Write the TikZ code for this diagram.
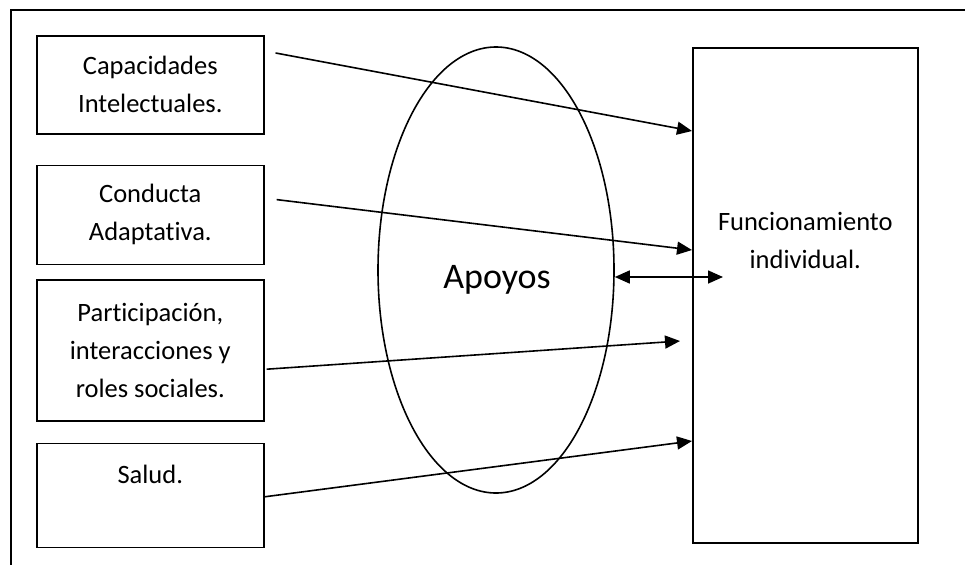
\documentclass[tikz,border=0pt]{standalone}
\usepackage{fontspec}
\setmainfont{Carlito}[Ligatures=NoCommon]
\usetikzlibrary{shapes.geometric, positioning, arrows.meta}

\begin{document}
\begin{tikzpicture}[x=1pt, y=-1pt, >={Triangle[length=15pt,width=13pt]},
  caja/.style={draw, line width=1.6pt, inner sep=0pt, minimum width=227pt, align=center, font=\fontsize{26.5}{38}\selectfont},
  texto/.style={align=center, font=\fontsize{26.5}{38}\selectfont}]
\useasboundingbox (0,0) rectangle (965,565);
\draw[line width=1.7pt] (965,10) -- (11,10) -- (11,565);

\node[caja, minimum height=98pt, anchor=north west] (cap) at (36,35) {Capacidades\\Intelectuales.};
\node[caja, minimum height=99pt, below=30pt of cap] (con) {Conducta\\Adaptativa.};
\node[caja, minimum height=141pt, below=14pt of con] (par) {Participación,\\interacciones y\\roles sociales.};
\node[caja, text height=40pt, text depth=64pt, below=21pt of par] (sal) {Salud.};

\node[draw, ellipse, line width=1.6pt, inner sep=0pt, minimum width=236pt, minimum height=446pt] (ap) at (496,270) {};
\node[font=\fontsize{36}{43}\selectfont] (aptxt) at (497,280) {Apoyos};

\node[draw, line width=1.6pt, minimum width=225pt, minimum height=495pt, anchor=north west] (fi) at (692,47) {};
\node[texto] (fitxt) at ([shift={(0,193)}]fi.north) {Funcionamiento\\individual.};

\coordinate (dd) at (723,277);

\path[->, line width=1.6pt]
    ([shift={(11,18)}]cap.north east) edge ([shift={(0,84)}]fi.north west)
    ([shift={(12,35)}]con.north east) edge ([shift={(0,203)}]fi.north west)
    ([shift={(2,90)}]par.north east) edge ([shift={(-12,294)}]fi.north west)
    ([shift={(0,54)}]sal.north east) edge ([shift={(0,394)}]fi.north west)
    ([shift={(0,7)}]ap.east) edge [<->] (dd);

\end{tikzpicture}
\end{document}
